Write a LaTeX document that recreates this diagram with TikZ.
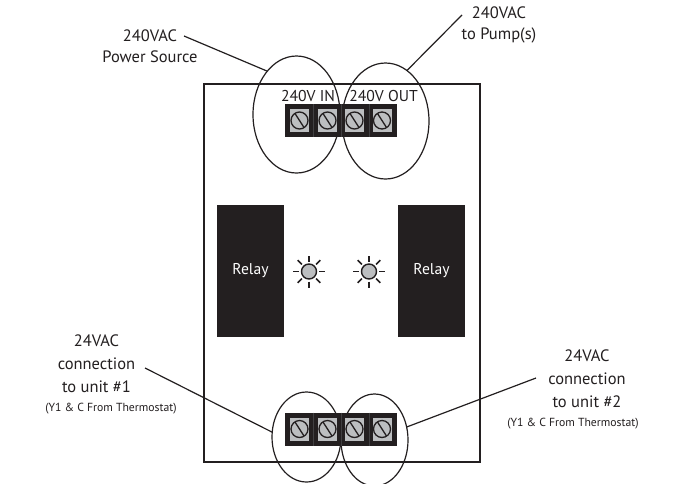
\documentclass[tikz,border=0pt]{standalone}
\usepackage{fontspec}
\setmainfont{PT Sans}
\usetikzlibrary{shapes.geometric}
\definecolor{ink}{HTML}{231F20}
\definecolor{screwgray}{HTML}{BCBEC0}
\definecolor{seam}{HTML}{414042}
\tikzset{
  x=1pt,y=-1pt,
  oval/.style={draw=ink,line width=1.2pt,ellipse,inner sep=0pt,outer sep=0pt},
  leader/.style={draw=ink,line width=1.2pt},
  board/.style={draw=ink,line width=2pt,fill=white},
  block/.style={fill=ink,draw=none,minimum width=112pt,minimum height=33pt,inner sep=0pt},
  plate/.style={fill=screwgray,draw=none,minimum width=19pt,minimum height=23pt,inner sep=0pt},
  relay/.style={fill=ink,draw=none,minimum width=67pt,minimum height=132pt,inner sep=0pt,text=white,font=\fontsize{15.6}{18}\selectfont},
  lbl/.style={align=center,text=ink,inner sep=0pt,font=\fontsize{16.5}{21}\selectfont},
  lblb/.style={align=center,text=ink,inner sep=0pt,font=\fontsize{16.5}{23}\selectfont},
  tiny/.style={text=ink,inner sep=0pt,anchor=base,font=\fontsize{11.7}{14}\selectfont},
  term/.style={text=ink,inner sep=0pt,anchor=base,font=\fontsize{15.7}{18}\selectfont},
  led/.style={circle,fill=screwgray,draw=ink,line width=1.4pt,minimum size=15pt,inner sep=0pt},
}
\newcommand{\screw}[2]{%
  \node[plate] (p#1) at (#2) {};
  \draw[ink,line width=1.3pt] (p#1.center) circle (8.5pt);
  \draw[ink,line width=1.3pt] ([shift={(-4.5,-7)}]p#1.center) -- ([shift={(4.5,7)}]p#1.center);
}
\newcommand{\ledmark}[2]{%
  \node[led] (#1) at (#2) {};
  \foreach \a in {0,45,...,315}
    \draw[ink,line width=1.5pt] (#1.center)++(\a:10pt) -- ++(\a:6pt);
}
\begin{document}
\begin{tikzpicture}
\useasboundingbox (0,0) rectangle (679,483);
\clip (0,0) rectangle (679,483);
\fill[white] (0,0) rectangle (679,483);
\node[board,minimum width=276pt,minimum height=378pt,inner sep=0pt] (bd) at (342,273) {};
% ovals
\node[oval,minimum width=87pt,minimum height=117pt] (o1) at (296.5,114.5) {};
\node[oval,minimum width=87pt,minimum height=116pt] (o2) at (385.5,121) {};
\node[oval,minimum width=69pt,minimum height=90pt] (o3) at (306.5,437) {};
\node[oval,minimum width=67pt,minimum height=92pt] (o4) at (374.5,440) {};
% terminal blocks
\node[block] (tb1) at (341,120.5) {};
\node[block] (tb2) at (341,429) {};
\foreach \x in {313,341,369} {
  \draw[seam,line width=.5pt] (\x,104) -- (\x,137);
  \draw[seam,line width=.5pt] (\x,412.5) -- (\x,445.5);
}
\foreach \x [count=\i] in {299.5,327.5,354.5,382} {
  \screw{a\i}{\x,120.5}
  \screw{b\i}{\x,429}
}
\node[term] (in) at (308,101) {240V IN};
\node[term] (out) at (383.5,101) {240V OUT};
% relays
\node[relay] (r1) at (250.5,271) {Relay};
\node[relay] (r2) at (431.5,271) {Relay};
\ledmark{l1}{309,271.5}
\ledmark{l2}{369,271.5}
% labels
\node[lbl] (t1) at (150,46) {240VAC\\Power Source};
\node[lbl] (t2) at (499,25) {240VAC\\to Pump(s)};
\node[lblb] (t3) at (96.5,364) {24VAC\\connection\\to unit \#1};
\node[tiny] (t3s) at (111,411) {(Y1 \& C From Thermostat)};
\node[lblb] (t4) at (587,379) {24VAC\\connection\\to unit \#2};
\node[tiny] (t4s) at (573,426) {(Y1 \& C From Thermostat)};
% leaders
\coordinate (c1) at (184,36);
\coordinate (c2) at (462,15);
\coordinate (c3) at (145,368);
\coordinate (c4) at (536,378);
\draw[leader] (c1) -- (o1.124);
\draw[leader] (c2) -- (o2.67.5);
\draw[leader] (c3) -- (o3.172);
\draw[leader] (c4) -- (o4.22);
\end{tikzpicture}
\end{document}
